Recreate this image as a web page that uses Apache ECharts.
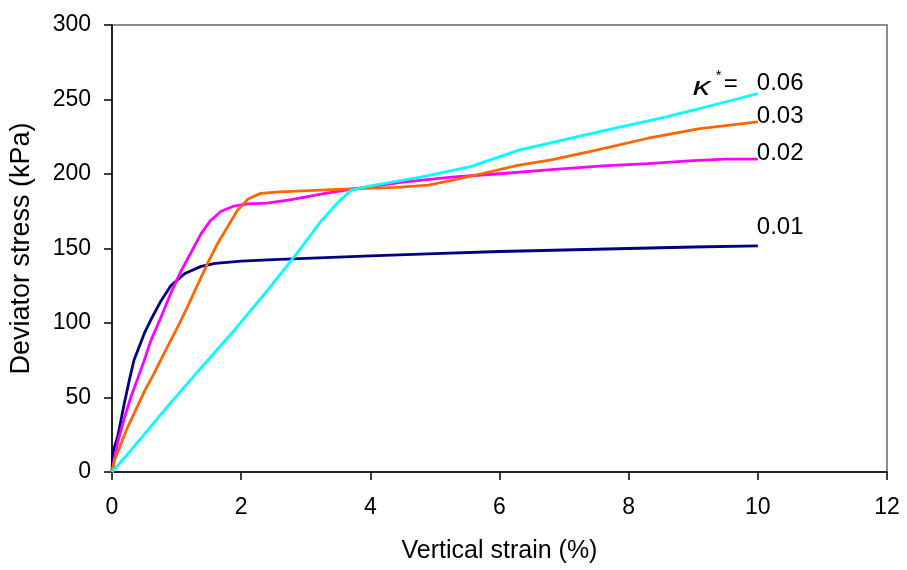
<!DOCTYPE html>
<html>
<head>
<meta charset="utf-8">
<script src="https://cdn.jsdelivr.net/npm/echarts@6/dist/echarts.min.js"></script>
<style>
  html, body { margin: 0; padding: 0; background: #fff; }
  #chart { width: 907px; height: 570px; }
</style>
</head>
<body>
<div id="chart"></div>
<script>
// Triaxial stress-strain curves for different values of the swelling index kappa*
const kappaValues = ['0.01', '0.02', '0.03', '0.06'];
const xTicks = [0, 2, 4, 6, 8, 10, 12];
const yTicks = [0, 50, 100, 150, 200, 250, 300];

const strain001 = [0, 0.01, 0.04, 0.09, 0.14, 0.19, 0.27, 0.34, 0.5, 0.6, 0.76, 0.91, 1.12, 1.38, 1.6, 2.0, 2.5, 3.1, 4.0, 5.0, 6.0, 7.0, 8.0, 9.0, 10];
const stress001 = [0, 12, 17, 24, 35, 46, 62, 75, 93, 102, 115, 125, 133, 138, 140, 141.5, 142.5, 143.5, 145, 146.5, 148, 149, 150, 151, 151.7];

const strain002 = [0, 0.02, 0.09, 0.19, 0.29, 0.4, 0.5, 0.6, 0.76, 0.91, 1.07, 1.22, 1.38, 1.53, 1.69, 1.89, 2.1, 2.4, 2.8, 3.3, 3.75, 4.5, 5.3, 6.1, 6.8, 7.6, 8.3, 9.0, 9.5, 10];
const stress002 = [0, 5, 20, 36, 50, 63, 75, 88, 104, 120, 135, 147, 160, 169, 175, 178.5, 180, 180.5, 183, 187, 190, 194.5, 198, 200.5, 203, 205.5, 207, 209, 210, 210];

const strain003 = [0, 0.04, 0.14, 0.24, 0.34, 0.5, 0.65, 0.81, 1.02, 1.17, 1.33, 1.48, 1.63, 1.79, 1.94, 2.1, 2.3, 2.6, 3.3, 3.7, 4.4, 4.9, 5.3, 5.7, 6.3, 6.8, 7.5, 8.3, 9.1, 10];
const stress003 = [0, 8, 19, 30, 39, 54, 66, 80, 97.5, 111, 126, 140, 153, 164.5, 175.5, 183, 187, 188, 189.3, 190, 191, 192.6, 196, 200, 206, 209.5, 216, 224, 230.5, 235];

const strain006 = [0, 0.34, 0.86, 1.38, 1.89, 2.41, 2.92, 3.23, 3.5, 3.7, 4.0, 4.8, 5.55, 6.3, 7.6, 8.6, 9.6, 10];
const stress006 = [0, 17, 44, 70, 95, 122, 150, 168, 181, 189, 192, 198, 205, 216, 229, 238.5, 249.5, 254];

const curves = [
  { name: kappaValues[0], x: strain001, y: stress001, color: '#000080', dy: -19 },
  { name: kappaValues[1], x: strain002, y: stress002, color: '#FF00FF', dy: -6 },
  { name: kappaValues[2], x: strain003, y: stress003, color: '#FF6600', dy: -5 },
  { name: kappaValues[3], x: strain006, y: stress006, color: '#00FFFF', dy: -10 }
];

const FONT = '"Liberation Sans", Arial, sans-serif';
const chart = echarts.init(document.getElementById('chart'));

chart.setOption({
  animation: false,
  backgroundColor: '#fff',
  grid: {
    left: 111, right: 20, top: 25, bottom: 98,
    show: true, borderColor: '#8c8c8c', borderWidth: 2
  },
  xAxis: {
    type: 'value', min: xTicks[0], max: xTicks[xTicks.length - 1], interval: 2,
    name: 'Vertical strain (%)', nameLocation: 'middle', nameGap: 67,
    nameTextStyle: { fontFamily: FONT, fontSize: 25, color: '#000' },
    axisLine: { lineStyle: { color: '#000', width: 1.5 } },
    axisTick: { inside: false, length: 8, lineStyle: { color: '#000', width: 1.5 } },
    axisLabel: { fontFamily: FONT, fontSize: 23, color: '#000', margin: 24 },
    splitLine: { show: false }
  },
  yAxis: {
    type: 'value', min: yTicks[0], max: yTicks[yTicks.length - 1], interval: 50,
    name: 'Deviator stress (kPa)', nameLocation: 'middle', nameGap: 77,
    nameTextStyle: { fontFamily: FONT, fontSize: 27, color: '#000' },
    axisLine: { show: true, lineStyle: { color: '#000', width: 1.5 } },
    axisTick: { show: true, inside: false, length: 8, lineStyle: { color: '#000', width: 1.5 } },
    axisLabel: { fontFamily: FONT, fontSize: 23, color: '#000', margin: 21 },
    splitLine: { show: false }
  },
  series: curves.map(c => ({
    name: c.name,
    type: 'line',
    data: c.x.map((v, i) => [v, c.y[i]]),
    showSymbol: false,
    symbol: 'none',
    lineStyle: { color: c.color, width: 2.8 },
    z: 3
  }))
});

// Value labels placed next to the end of each curve
const graphics = [];
curves.forEach(c => {
  const last = c.x.length - 1;
  const p = chart.convertToPixel({ gridIndex: 0 }, [c.x[last], c.y[last]]);
  graphics.push({
    type: 'text', x: p[0] - 1, y: p[1] + c.dy,
    style: { text: c.name, fontFamily: FONT, fontSize: 24, fill: '#000', textVerticalAlign: 'middle', textAlign: 'left' }
  });
  if (c.name === kappaValues[3]) {
    graphics.push({
      type: 'text', x: p[0] - 65, y: p[1] - 6, scaleX: 1.35,
      style: { text: 'κ', fontFamily: FONT, fontStyle: 'italic', fontSize: 26, fill: '#000', textVerticalAlign: 'middle', textAlign: 'left' }
    });
    graphics.push({
      type: 'text', x: p[0] - 42, y: p[1] - 18,
      style: { text: '*', fontFamily: FONT, fontSize: 15, fill: '#000', textVerticalAlign: 'middle', textAlign: 'left' }
    });
    graphics.push({
      type: 'text', x: p[0] - 34, y: p[1] - 9,
      style: { text: '=', fontFamily: FONT, fontSize: 24, fill: '#000', textVerticalAlign: 'middle', textAlign: 'left' }
    });
  }
});
chart.setOption({ graphic: graphics });
</script>
</body>
</html>
